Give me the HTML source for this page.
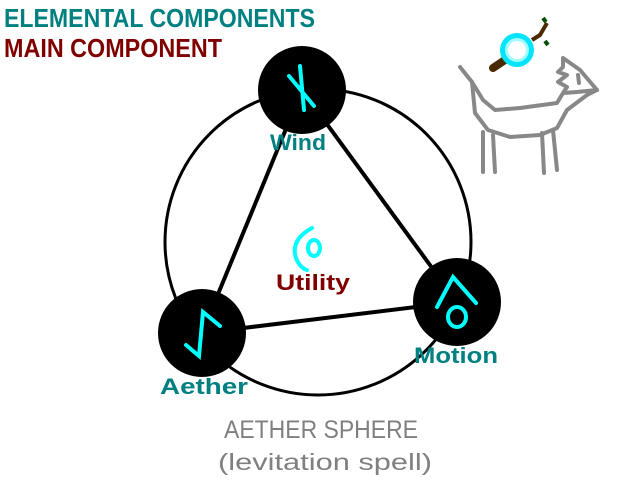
<!DOCTYPE html>
<html><head><meta charset="utf-8"><style>
html,body{margin:0;padding:0;background:#fff;width:640px;height:480px;overflow:hidden}
</style></head><body>
<svg width="640" height="480" viewBox="0 0 640 480" xmlns="http://www.w3.org/2000/svg" font-family="Liberation Sans, sans-serif">
<rect width="640" height="480" fill="#fff"/>
<text x="4" y="27" font-size="26" font-weight="bold" fill="#008080" textLength="311" lengthAdjust="spacingAndGlyphs">ELEMENTAL COMPONENTS</text>
<text x="4" y="57" font-size="26" font-weight="bold" fill="#800000" textLength="218" lengthAdjust="spacingAndGlyphs">MAIN COMPONENT</text>
<circle cx="318" cy="242" r="153" fill="none" stroke="#000" stroke-width="3"/>
<g stroke="#000" stroke-width="4">
<line x1="302" y1="90" x2="202" y2="333"/>
<line x1="302" y1="90" x2="457" y2="302"/>
<line x1="202" y1="333" x2="457" y2="302"/>
</g>
<circle cx="302" cy="90" r="44" fill="#000"/>
<circle cx="202" cy="333" r="44" fill="#000"/>
<circle cx="457" cy="302" r="44" fill="#000"/>
<g stroke="#00ffff" stroke-width="4" fill="none" stroke-linecap="round">
<path d="M300 66 L304 110 M289 76 L314 106"/>
<path d="M186 345 L199 356 L203 312 L220 326"/>
<path d="M437 307 L453 277 L476 303"/>
<ellipse cx="457" cy="317" rx="9" ry="10"/>
<path d="M312 228 Q290 240 296 258 Q300 268 307 270"/>
<ellipse cx="314" cy="248" rx="6" ry="8"/>
</g>
<text x="270" y="150" font-size="22" font-weight="bold" fill="#008080" textLength="56" lengthAdjust="spacingAndGlyphs">Wind</text>
<text x="160" y="394" font-size="22" font-weight="bold" fill="#008080" textLength="88" lengthAdjust="spacingAndGlyphs">Aether</text>
<text x="414" y="363" font-size="22" font-weight="bold" fill="#008080" textLength="84" lengthAdjust="spacingAndGlyphs">Motion</text>
<text x="276" y="290" font-size="22" font-weight="bold" fill="#800000" textLength="74" lengthAdjust="spacingAndGlyphs">Utility</text>
<text x="321" y="438" font-size="25" fill="#808080" text-anchor="middle" textLength="194" lengthAdjust="spacingAndGlyphs">AETHER SPHERE</text>
<text x="325" y="470" font-size="23" fill="#808080" text-anchor="middle" textLength="214" lengthAdjust="spacingAndGlyphs">(levitation spell)</text>
<g stroke="#888" stroke-width="4" fill="none" stroke-linecap="round" stroke-linejoin="round">
<path d="M460 67 L472 82 L483 100 L495 110 L520 108 L557 103 L563 93 L577 92 L597 90 L580 70 L563 58 L563 67 L558 72 L567 75 L558 82 L567 87 L563 93"/>
<path d="M472 82 L475 113 L488 130 L510 137 L540 135 L557 128 L567 110 L587 95 L597 90"/>
<path d="M483 132 L483 172 M493 135 L495 172 M542 133 L544 173 M553 130 L557 170"/>
<path d="M578 75 L579 83"/>
</g>
<path d="M532 40 L540 35 L547 23" stroke="#4a2a00" stroke-width="4" fill="none" stroke-linejoin="round"/>
<path d="M511 56 L493 68" stroke="#4a2a00" stroke-width="8" stroke-linecap="round"/>
<path d="M543 18 L546 22 M545 41 L548 45" stroke="#005000" stroke-width="4"/>
<circle cx="517" cy="50" r="17" fill="#00e5ff"/>
<circle cx="517" cy="50" r="12" fill="#9ffbff"/>
<circle cx="517" cy="50" r="9" fill="#fff"/>
</svg>
</body></html>
